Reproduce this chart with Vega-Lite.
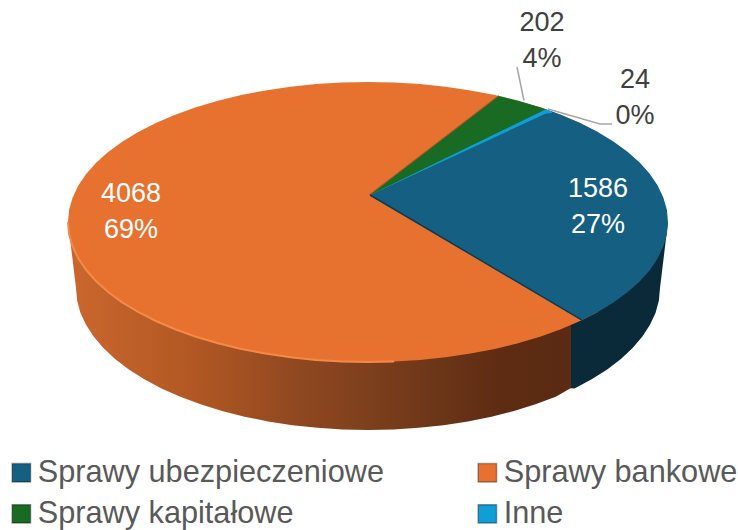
{
"$schema":"https://vega.github.io/schema/vega-lite/v6.json",
"width":738,"height":530,"padding":0,"autosize":{"type":"none"},
"background":"white",
"config":{"view":{"stroke":null}},
"datasets":{
"face":[{"name":"Sprawy bankowe","x":-300,"y":0,"y2":0},{"x":-298.9,"y":12.2,"y2":-12.2,"name":"Sprawy bankowe"},{"x":-295.4,"y":24.3,"y2":-24.3,"name":"Sprawy bankowe"},{"x":-289.8,"y":36.2,"y2":-36.2,"name":"Sprawy bankowe"},{"x":-281.9,"y":47.9,"y2":-47.9,"name":"Sprawy bankowe"},{"x":-271.9,"y":59.2,"y2":-59.2,"name":"Sprawy bankowe"},{"x":-259.8,"y":70,"y2":-70,"name":"Sprawy bankowe"},{"x":-245.8,"y":80.3,"y2":-80.3,"name":"Sprawy bankowe"},{"x":-229.8,"y":90,"y2":-90,"name":"Sprawy bankowe"},{"x":-212.1,"y":99,"y2":-99,"name":"Sprawy bankowe"},{"x":-192.8,"y":107.2,"y2":-107.2,"name":"Sprawy bankowe"},{"x":-172.1,"y":114.7,"y2":-114.7,"name":"Sprawy bankowe"},{"x":-150,"y":121.2,"y2":-121.2,"name":"Sprawy bankowe"},{"x":-126.8,"y":126.9,"y2":-126.9,"name":"Sprawy bankowe"},{"x":-102.6,"y":131.6,"y2":-131.6,"name":"Sprawy bankowe"},{"x":-77.6,"y":135.2,"y2":-135.2,"name":"Sprawy bankowe"},{"x":-52.1,"y":137.9,"y2":-137.9,"name":"Sprawy bankowe"},{"x":-26.2,"y":139.5,"y2":-139.5,"name":"Sprawy bankowe"},{"x":0,"y":140,"y2":-140,"name":"Sprawy bankowe"},{"x":26.2,"y":139.5,"y2":-139.5,"name":"Sprawy bankowe"},{"x":52.1,"y":137.9,"y2":-137.9,"name":"Sprawy bankowe"},{"x":77.6,"y":135.2,"y2":-135.2,"name":"Sprawy bankowe"},{"x":102.6,"y":131.6,"y2":-131.6,"name":"Sprawy bankowe"},{"x":126.8,"y":126.9,"y2":-126.9,"name":"Sprawy bankowe"},{"x":150,"y":121.2,"y2":-121.2,"name":"Sprawy bankowe"},{"x":172.1,"y":114.7,"y2":-114.7,"name":"Sprawy bankowe"},{"x":192.8,"y":107.2,"y2":-107.2,"name":"Sprawy bankowe"},{"x":212.1,"y":99,"y2":-99,"name":"Sprawy bankowe"},{"x":229.8,"y":90,"y2":-90,"name":"Sprawy bankowe"}],
"rim":[{"x":-300,"y":0},{"x":-298.9,"y":-12.2},{"x":-295.4,"y":-24.3},{"x":-289.8,"y":-36.2},{"x":-281.9,"y":-47.9},{"x":-271.9,"y":-59.2},{"x":-259.8,"y":-70},{"x":-245.8,"y":-80.3},{"x":-229.8,"y":-90},{"x":-212.1,"y":-99},{"x":-192.8,"y":-107.2},{"x":-172.1,"y":-114.7},{"x":-150,"y":-121.2},{"x":-126.8,"y":-126.9},{"x":-102.6,"y":-131.6},{"x":-77.6,"y":-135.2},{"x":-52.1,"y":-137.9},{"x":-26.2,"y":-139.5},{"x":0,"y":-140},{"x":26.2,"y":-139.5}],
"blue":[{"name":"Sprawy ubezpieczeniowe","x":2,"y":27,"y2":27},{"name":"Sprawy ubezpieczeniowe","x":180,"y":112,"y2":-78},{"name":"Sprawy ubezpieczeniowe","x":192.8,"y":107.2,"y2":-85.6},{"name":"Sprawy ubezpieczeniowe","x":212.1,"y":99,"y2":-97},{"name":"Sprawy ubezpieczeniowe","x":214,"y":98.1,"y2":-98.1},{"name":"Sprawy ubezpieczeniowe","x":229.8,"y":90,"y2":-90},{"name":"Sprawy ubezpieczeniowe","x":245.8,"y":80.3,"y2":-80.3},{"name":"Sprawy ubezpieczeniowe","x":259.8,"y":70,"y2":-70},{"name":"Sprawy ubezpieczeniowe","x":271.9,"y":59.2,"y2":-59.2},{"name":"Sprawy ubezpieczeniowe","x":281.9,"y":47.9,"y2":-47.9},{"name":"Sprawy ubezpieczeniowe","x":289.8,"y":36.2,"y2":-36.2},{"name":"Sprawy ubezpieczeniowe","x":295.4,"y":24.3,"y2":-24.3},{"name":"Sprawy ubezpieczeniowe","x":298.9,"y":12.2,"y2":-12.2},{"name":"Sprawy ubezpieczeniowe","x":300,"y":0,"y2":0}],
"green":[{"name":"Sprawy kapitałowe","x":2,"y":27,"y2":27},{"name":"Sprawy kapitałowe","x":131,"y":126,"y2":87.1},{"name":"Sprawy kapitałowe","x":150,"y":121.2,"y2":95.9},{"name":"Sprawy kapitałowe","x":172.1,"y":114.7,"y2":106.3},{"name":"Sprawy kapitałowe","x":180,"y":112,"y2":110}],
"cyan":[{"name":"Inne","x":2,"y":27,"y2":27},{"name":"Inne","x":178,"y":112.8,"y2":108.5},{"name":"Inne","x":184,"y":110.6,"y2":109}],
"wallOrange":[{"x":-300,"y":0,"y2":0},{"x":-292,"y":0,"y2":-66},{"x":-290.9,"y":0,"y2":-78.4},{"x":-287.6,"y":0,"y2":-90.7},{"x":-282,"y":0,"y2":-102.8},{"x":-274.4,"y":0,"y2":-114.6},{"x":-264.6,"y":0,"y2":-126},{"x":-252.9,"y":0,"y2":-137},{"x":-239.2,"y":0,"y2":-147.5},{"x":-223.7,"y":0,"y2":-157.3},{"x":-206.5,"y":0,"y2":-166.4},{"x":-187.7,"y":0,"y2":-174.8},{"x":-167.5,"y":0,"y2":-182.3},{"x":-146,"y":0,"y2":-189},{"x":-123.4,"y":0,"y2":-194.7},{"x":-99.9,"y":0,"y2":-199.4},{"x":-75.6,"y":0,"y2":-203.2},{"x":-50.7,"y":0,"y2":-205.8},{"x":-25.5,"y":0,"y2":-207.5},{"x":0,"y":0,"y2":-208},{"x":25.5,"y":0,"y2":-207.5},{"x":50.7,"y":0,"y2":-205.8},{"x":75.6,"y":0,"y2":-203.2},{"x":99.9,"y":0,"y2":-199.4},{"x":123.4,"y":0,"y2":-194.7},{"x":146,"y":0,"y2":-189},{"x":167.5,"y":0,"y2":-182.3},{"x":187.7,"y":0,"y2":-174.8},{"x":203,"y":0,"y2":-166}],
"wallBlue":[{"x":200,"y":0,"y2":-166},{"x":206.5,"y":0,"y2":-166.4},{"x":223.7,"y":0,"y2":-157.3},{"x":239.2,"y":0,"y2":-147.5},{"x":252.9,"y":0,"y2":-137},{"x":264.6,"y":0,"y2":-126},{"x":274.4,"y":0,"y2":-114.6},{"x":282,"y":0,"y2":-102.8},{"x":287.6,"y":0,"y2":-90.7},{"x":290.9,"y":0,"y2":-78.4},{"x":292,"y":0,"y2":-66},{"x":300,"y":0,"y2":0}],
"edgeOrange":[{"x":2,"y":27},{"x":131,"y":126}],
"edgeBlue":[{"x":2,"y":27},{"x":214,"y":-98.1}],
"leaders":[{"part":"a","x":149,"y":155},{"part":"a","x":156,"y":121.5},{"part":"b","x":180,"y":113},{"part":"b","x":232,"y":98},{"part":"b","x":244,"y":98}],
"labels":[{"name":"Sprawy ubezpieczeniowe","value":1586,"pct":"27%","x":230,"y":16},{"name":"Sprawy bankowe","value":4068,"pct":"69%","x":-237,"y":11},{"name":"Sprawy kapitałowe","value":202,"pct":"4%","x":174,"y":182},{"name":"Inne","value":24,"pct":"0%","x":267,"y":124.5}]
},
"encoding":{
"x":{"field":"x","type":"quantitative","scale":{"domain":[-368,370],"nice":false,"zero":false},"axis":null},
"y":{"field":"y","type":"quantitative","stack":null,"scale":{"domain":[-308,222],"nice":false,"zero":false},"axis":null}
},
"layer":[
{"data":{"name":"wallBlue"},"mark":{"type":"area","color":"#0A2A39"},"encoding":{"y2":{"field":"y2"}}},
{"data":{"name":"wallOrange"},"mark":{"type":"area","color":{"gradient":"linear","x1":0,"x2":1,"y1":0,"y2":0,"stops":[{"offset":0,"color":"#CB672D"},{"offset":0.26,"color":"#B05723"},{"offset":0.46,"color":"#8F4820"},{"offset":0.66,"color":"#753B1B"},{"offset":0.86,"color":"#5E2C13"},{"offset":1,"color":"#5A2A12"}]}},"encoding":{"y2":{"field":"y2"}}},
{"data":{"name":"face"},"mark":{"type":"area"},"encoding":{"y2":{"field":"y2"},"color":{"field":"name","type":"nominal","scale":{"domain":["Sprawy ubezpieczeniowe","Sprawy kapitałowe","Sprawy bankowe","Inne"],"range":["#156082","#196B24","#E7722F","#0F9ED5"]},"legend":{"title":null,"orient":"none","legendX":6,"legendY":457,"columns":2,"columnPadding":88,"rowPadding":9.5,"symbolType":"square","symbolSize":340,"symbolOpacity":1,"symbolStrokeColor":"rgba(0,0,0,0.35)","symbolStrokeWidth":1.5,"labelFont":"Liberation Sans","labelFontSize":30.7,"labelColor":"#595959","labelLimit":500,"labelOffset":1}}}},
{"data":{"name":"rim"},"mark":{"type":"line","color":"#F58A48","strokeWidth":2}},
{"data":{"name":"edgeOrange"},"mark":{"type":"line","color":"#B0552A","strokeWidth":2}},
{"data":{"name":"blue"},"mark":{"type":"area"},"encoding":{"y2":{"field":"y2"},"color":{"field":"name","type":"nominal"}}},
{"data":{"name":"green"},"mark":{"type":"area"},"encoding":{"y2":{"field":"y2"},"color":{"field":"name","type":"nominal"}}},
{"data":{"name":"cyan"},"mark":{"type":"area"},"encoding":{"y2":{"field":"y2"},"color":{"field":"name","type":"nominal"}}},
{"data":{"name":"edgeBlue"},"mark":{"type":"line","color":"#0E3A50","strokeWidth":1.5}},
{"data":{"name":"leaders"},"mark":{"type":"line","color":"#A6A6A6","strokeWidth":1.5},"encoding":{"detail":{"field":"part"}}},
{"data":{"name":"labels"},"transform":[{"calculate":"datum.value + '\\n' + datum.pct","as":"label"}],"mark":{"type":"text","font":"Liberation Sans","fontSize":27,"lineBreak":"\n","lineHeight":36,"align":"center","baseline":"middle","dy":-17.5},"encoding":{"text":{"field":"label"},"color":{"condition":{"test":"datum.value > 1000","value":"#FFFFFF"},"value":"#404040"}}}
]
}
